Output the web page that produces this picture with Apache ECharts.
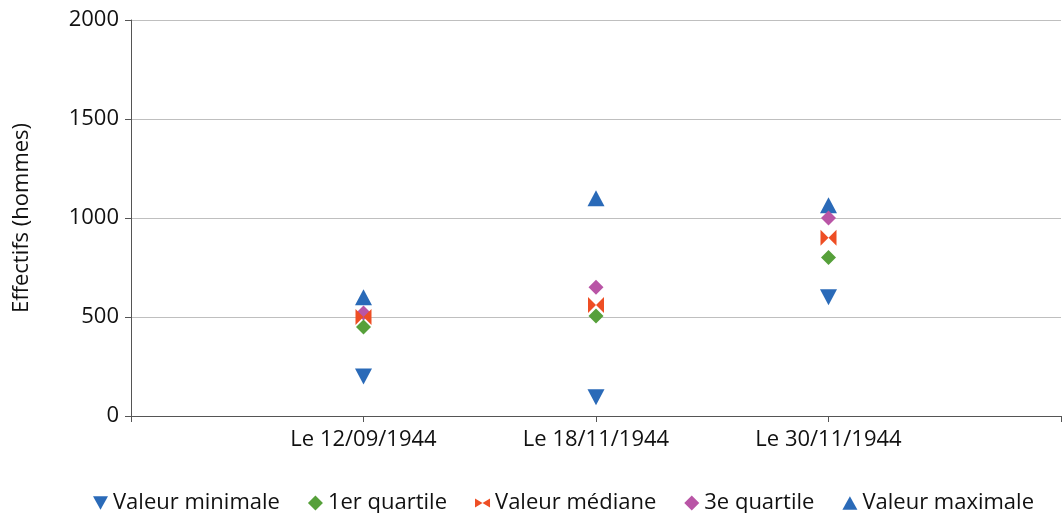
<!DOCTYPE html>
<html>
<head>
<meta charset="utf-8">
<script src="https://cdn.jsdelivr.net/npm/echarts@6/dist/echarts.min.js"></script>
<style>
	html, body { margin: 0; padding: 0; background: #fff; }
	#chart { width: 1064px; height: 513px; }
</style>
</head>
<body>
<div id="chart"></div>
<script>
// categories (empty slots at both ends, like the original sheet)
var dates = ['', 'Le 12/09/1944', 'Le 18/11/1944', 'Le 30/11/1944', ''];
var pointDates = ['Le 12/09/1944', 'Le 18/11/1944', 'Le 30/11/1944'];
var valMin = [200, 95, 600];
var quart1 = [450, 505, 800];
var valMed = [500, 560, 900];
var quart3 = [520, 650, 1000];
var valMax = [600, 1100, 1065];
var yTicks = [0, 500, 1000, 1500, 2000];

var font = '"Open Sans", sans-serif';
var fs = 22;
var bowtie = 'path://M0,0 L10,6 L0,12 Z M20,0 L10,6 L20,12 Z';
var downTri = 'path://M0,0 L20,0 L10,18 Z';
var upTri = 'path://M10,0 L20,18 L0,18 Z';

function pairs(vals) { //associer chaque valeur a sa date
	var out = [];
	for (var i = 0; i < vals.length; i++) {
		out.push([pointDates[i], vals[i]]);
	}
	return out;
}

var chart = echarts.init(document.getElementById('chart'));
chart.setOption({
	animation: false,
	textStyle: { fontFamily: font },
	grid: { left: 131, right: 2, top: 20, bottom: 97 },
	legend: {
		left: 88,
		top: 487,
		itemGap: 28,
		itemWidth: 15,
		itemHeight: 15,
		textStyle: { fontSize: fs, color: '#111', fontFamily: font },
		data: ['Valeur minimale', '1er quartile', 'Valeur médiane', '3e quartile', 'Valeur maximale']
	},
	xAxis: {
		type: 'category',
		data: dates,
		boundaryGap: false,
		axisLine: { lineStyle: { color: '#555', width: 1 } },
		axisTick: { show: true, interval: 0, length: 6, lineStyle: { color: '#555' } },
		axisLabel: { interval: 0, fontSize: fs, color: '#111', margin: 13 },
		splitLine: { show: false }
	},
	yAxis: {
		type: 'value',
		min: yTicks[0],
		max: yTicks[yTicks.length - 1],
		interval: 500,
		name: 'Effectifs (hommes)',
		nameLocation: 'middle',
		nameGap: 98,
		nameTextStyle: { fontSize: fs, color: '#111' },
		axisLine: { show: true, lineStyle: { color: '#555' } },
		axisTick: { show: true, length: 6, lineStyle: { color: '#555' } },
		axisLabel: { fontSize: fs, color: '#111', margin: 12, formatter: function(v) { return String(v); } },
		splitLine: { lineStyle: { color: '#bfbfbf', width: 1 } }
	},
	series: [
		{ name: 'Valeur maximale', type: 'scatter', symbol: upTri, symbolSize: [17, 16], itemStyle: { color: '#2a6ab8', opacity: 1 }, data: pairs(valMax), z: 2 },
		{ name: '3e quartile', type: 'scatter', symbol: 'diamond', symbolSize: 15, itemStyle: { color: '#b955a6', opacity: 1 }, data: pairs(quart3), z: 3 },
		{ name: 'Valeur médiane', type: 'scatter', symbol: bowtie, symbolSize: [16, 16], itemStyle: { color: '#ee4e24', opacity: 1 }, data: pairs(valMed), z: 4 },
		{ name: '1er quartile', type: 'scatter', symbol: 'diamond', symbolSize: 15, itemStyle: { color: '#56a03a', opacity: 1 }, data: pairs(quart1), z: 5 },
		{ name: 'Valeur minimale', type: 'scatter', symbol: downTri, symbolSize: [17, 16], itemStyle: { color: '#2a6ab8', opacity: 1 }, data: pairs(valMin), z: 2 }
	]
});
</script>
</body>
</html>
